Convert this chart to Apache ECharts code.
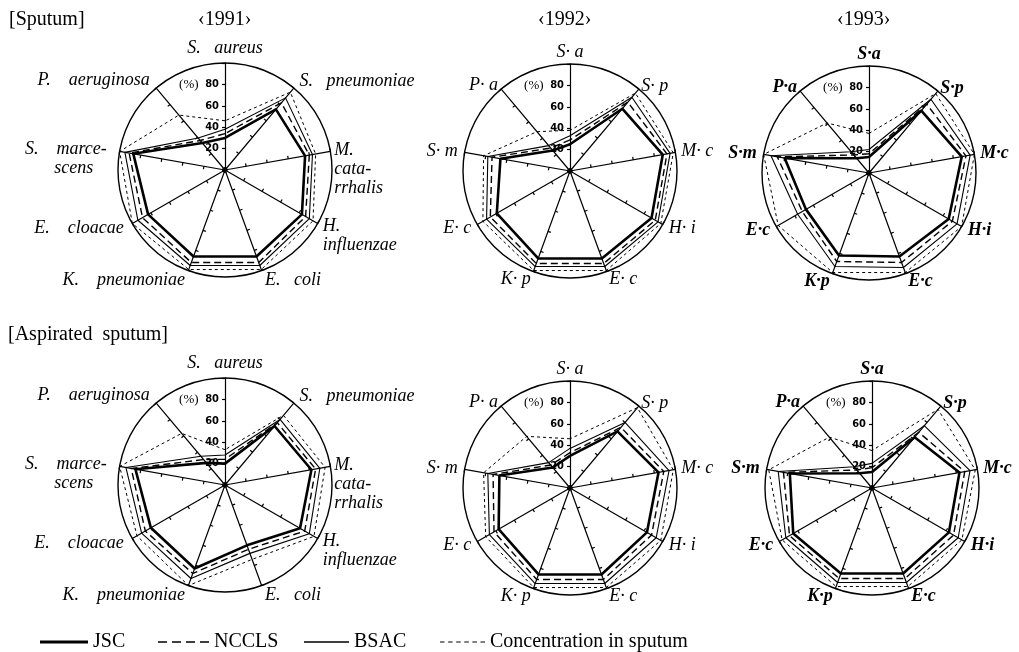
<!DOCTYPE html>
<html>
<head>
<meta charset="utf-8">
<script src="https://cdn.jsdelivr.net/npm/echarts@6/dist/echarts.min.js"></script>
<style>
html, body { margin: 0; padding: 0; background: #fff; }
#main { width: 1019px; height: 652px; }
</style>
</head>
<body>
<div id="main"></div>
<script>
// axis names, read clockwise from the top
// (leading blank lines keep the first line of a wrapped name level with the axis end)
var namesFull = ['S.   aureus', 'S.   pneumoniae', '\n\nM.\ncata-\nrrhalis', '\nH.\ninfluenzae', 'E.   coli',
    'K.    pneumoniae', 'E.    cloacae', '\nS.    marce-\nscens   ', 'P.    aeruginosa'];
var namesShort = ['S· a', 'S· p', 'M· c', 'H· i', 'E· c', 'K· p', 'E· c', 'S· m', 'P· a'];
var namesTight = ['S·a', 'S·p', 'M·c', 'H·i', 'E·c', 'K·p', 'E·c', 'S·m', 'P·a'];
var seriesNames = ['JSC', 'NCCLS', 'BSAC', 'Concentration in sputum'];

// values in %, rows: JSC, NCCLS, BSAC, concentration in sputum (same axis order)
var sputum1991 = [
    [30, 74, 76, 83, 86, 86, 83, 87, 33],
    [34, 82, 80, 87, 92, 92, 89, 91, 36],
    [38, 88, 83, 91, 95, 95, 94, 95, 39],
    [46, 95, 86, 95, 99, 99, 100, 100, 67]
];
var sputum1992 = [
    [25, 76, 88, 88, 87, 87, 79, 66, 25],
    [29, 84, 92, 92, 92, 92, 86, 74, 28],
    [33, 90, 95, 95, 95, 95, 90, 78, 31],
    [38, 95, 98, 98, 99, 99, 94, 82, 48]
];
var sputum1993 = [
    [15, 76, 88, 86, 83, 82, 68, 80, 18],
    [18, 84, 92, 90, 89, 88, 72, 87, 22],
    [22, 90, 96, 95, 94, 93, 77, 93, 26],
    [37, 97, 100, 100, 99, 99, 98, 100, 61]
];
var aspirated1991 = [
    [20, 72, 82, 81, 60, 83, 80, 85, 27],
    [24, 76, 86, 86, 64, 88, 86, 89, 31],
    [28, 80, 90, 91, 68, 93, 90, 94, 35],
    [33, 85, 95, 96, 74, 100, 95, 100, 63]
];
var aspirated1992 = [
    [30, 69, 84, 83, 86, 86, 77, 67, 25],
    [33, 74, 89, 88, 91, 91, 82, 73, 28],
    [37, 80, 94, 93, 95, 95, 87, 78, 31],
    [46, 98, 98, 98, 99, 99, 91, 82, 63]
];
var aspirated1993 = [
    [15, 62, 83, 83, 85, 85, 85, 78, 18],
    [19, 68, 88, 88, 90, 90, 89, 84, 22],
    [23, 76, 93, 93, 94, 94, 93, 89, 26],
    [35, 96, 98, 97, 98, 98, 97, 98, 62]
];
var panelData = [sputum1991, sputum1992, sputum1993, aspirated1991, aspirated1992, aspirated1993];

// layout
var centers = [[225, 170], [570, 171], [869, 173], [225, 485], [570, 488], [872, 488]];
var gapFull = [5, 9, 4, 6, 10, 10, 10, 13, 10];
var gapShort = [2, 4, 6, 7, 8, 8, 7, 7, 5];
var lineStyles = [
    { width: 2.6, type: 'solid' },
    { width: 1.4, type: [7, 4] },
    { width: 1.1, type: 'solid' },
    { width: 1, type: [3, 3] }
];

// echarts radar runs counter-clockwise, the figure runs clockwise
function ccw(arr) {
    return [arr[0]].concat(arr.slice(1).reverse());
}

// legend icon: dashes drawn as small rects inside a w x 8 box
function dashIcon(w, dash, gap, thick) {
    var y = 4 - thick / 2;
    var p = 'path://M0,0h0.1v0.1h-0.1z M' + (w - 0.1) + ',7.9h0.1v0.1h-0.1z';
    for (var x = 0; x < w - 0.5; x += dash + gap) {
        var d = Math.min(dash, w - x);
        p += ' M' + x + ',' + y + 'h' + d + 'v' + thick + 'h-' + d + 'z';
    }
    return p;
}
var legendLayout = [
    { left: 40, width: 48, icon: dashIcon(48, 48, 0, 3) },
    { left: 158, width: 51, icon: dashIcon(51, 9, 5, 1.5) },
    { left: 304, width: 45, icon: dashIcon(45, 45, 0, 1.3) },
    { left: 440, width: 45, icon: dashIcon(45, 4.5, 3.6, 1.2) }
];

var radars = centers.map(function (c, p) {
    var col = p % 3;
    var names = col === 0 ? namesFull : (col === 1 ? namesShort : namesTight);
    var gaps = col === 0 ? gapFull : gapShort;
    return {
        center: c,
        radius: 107,
        shape: 'circle',
        splitNumber: 5,
        startAngle: 90,
        indicator: ccw(names.map(function (n, k) {
            var ind = { name: n, min: 0, max: 100, nameGap: gaps[k] };
            if (k === 0) {
                ind.axisLabel = {
                    show: true,
                    margin: 6,
                    color: '#000',
                    formatter: function (v) {
                        if (v === 0 || v === 100) return '';
                        if (v === 80) return '{p|(%)}  {n|80}';
                        return '{n|' + v + '}';
                    },
                    rich: {
                        p: { fontFamily: 'Liberation Serif', fontSize: 13, color: '#000' },
                        n: { fontFamily: 'DejaVu Sans Condensed', fontWeight: 'bold', fontSize: 11, color: '#000' }
                    }
                };
            }
            return ind;
        })),
        axisName: {
            color: '#000',
            fontFamily: 'Liberation Serif',
            fontStyle: 'italic',
            fontWeight: col === 2 ? 'bold' : 'normal',
            fontSize: 18,
            lineHeight: 19
        },
        axisLine: { lineStyle: { color: '#000', width: 1.2 } },
        axisTick: { show: true, length: 3, lineStyle: { color: '#000', width: 1.2 } },
        axisLabel: { show: false },
        splitLine: {
            show: true,
            lineStyle: { color: ['rgba(0,0,0,0)', 'rgba(0,0,0,0)', 'rgba(0,0,0,0)', 'rgba(0,0,0,0)', 'rgba(0,0,0,0)', '#000'], width: 1.4 }
        },
        splitArea: { show: false }
    };
});

var series = panelData.map(function (rows, p) {
    return {
        type: 'radar',
        radarIndex: p,
        symbol: 'none',
        silent: true,
        data: rows.map(function (vals, s) {
            return {
                name: seriesNames[s],
                value: ccw(vals),
                itemStyle: { color: '#000' },
                lineStyle: { color: '#000', width: lineStyles[s].width, type: lineStyles[s].type }
            };
        })
    };
});

var legends = legendLayout.map(function (l, s) {
    return {
        left: l.left,
        top: 632,
        padding: 0,
        itemWidth: l.width,
        itemHeight: 8,
        selectedMode: false,
        data: [{ name: seriesNames[s], icon: l.icon }],
        itemStyle: { color: '#000', borderWidth: 0 },
        textStyle: { fontFamily: 'Liberation Serif', fontSize: 20, color: '#000' }
    };
});

var titleFont = { fontFamily: 'Liberation Serif', fontSize: 20, fontWeight: 'normal', color: '#000' };

var myChart = echarts.init(document.getElementById('main'));
var option = {
    backgroundColor: '#fff',
    animation: false,
    title: [
        { text: '[Sputum]', left: 9, top: 10, padding: 0, textStyle: titleFont },
        { text: '‹1991›', left: 198, top: 10, padding: 0, textStyle: titleFont },
        { text: '‹1992›', left: 538, top: 10, padding: 0, textStyle: titleFont },
        { text: '‹1993›', left: 837, top: 10, padding: 0, textStyle: titleFont },
        { text: '[Aspirated  sputum]', left: 8, top: 325, padding: 0, textStyle: titleFont }
    ],
    legend: legends,
    radar: radars,
    series: series
};
myChart.setOption(option);
</script>
</body>
</html>
